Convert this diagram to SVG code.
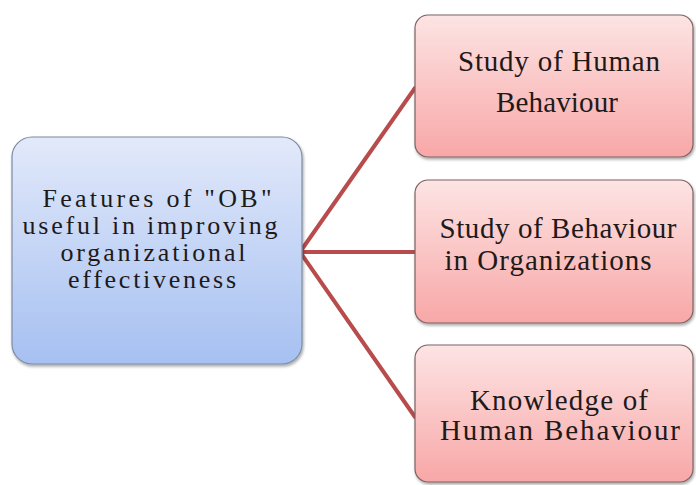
<svg xmlns="http://www.w3.org/2000/svg" width="696" height="485" viewBox="0 0 696 485">
  <defs>
    <linearGradient id="blueFill" x1="0" y1="0" x2="0" y2="1">
      <stop offset="0" stop-color="#e2e9fa"/>
      <stop offset="1" stop-color="#a6c0f1"/>
    </linearGradient>
    <linearGradient id="pinkFill" x1="0" y1="0" x2="0" y2="1">
      <stop offset="0" stop-color="#fde4e4"/>
      <stop offset="1" stop-color="#f8a7a7"/>
    </linearGradient>
    <filter id="shadow" x="-10%" y="-10%" width="120%" height="120%">
      <feGaussianBlur in="SourceAlpha" stdDeviation="1.5"/>
      <feOffset dx="1" dy="2" result="b"/>
      <feComponentTransfer><feFuncA type="linear" slope="0.35"/></feComponentTransfer>
      <feMerge><feMergeNode/><feMergeNode in="SourceGraphic"/></feMerge>
    </filter>
  </defs>
  <style>
    .lbl { font-family: "Liberation Serif", "Times New Roman", serif; font-size: 29px; fill: #1e1a1a; text-anchor: middle; }
    .small { font-size: 26px; }
    .root { fill: url(#blueFill); stroke: #7d8ca3; stroke-width: 1.2; }
    .leaf { fill: url(#pinkFill); stroke: #7e6262; stroke-width: 1.2; }
    .link { stroke: #b84b4b; stroke-width: 4; fill: none; stroke-linecap: round; }
  </style>
  <rect width="696" height="485" fill="#ffffff"/>

  <g id="connectors">
    <line class="link" x1="300" y1="252" x2="415" y2="88"/>
    <line class="link" x1="300" y1="252" x2="415" y2="252"/>
    <line class="link" x1="300" y1="252" x2="415" y2="417"/>
  </g>

  <g id="features">
    <rect class="root" x="12" y="137" width="290" height="227" rx="20" filter="url(#shadow)"/>
    <text class="lbl small" x="157" y="207" textLength="229" lengthAdjust="spacing">Features of "OB"</text>
    <text class="lbl small" x="150" y="234" textLength="255" lengthAdjust="spacing">useful in improving</text>
    <text class="lbl small" x="153" y="261" textLength="185" lengthAdjust="spacing">organizational</text>
    <text class="lbl small" x="152" y="288" textLength="168" lengthAdjust="spacing">effectiveness</text>
  </g>

  <g id="human-behaviour">
    <rect class="leaf" x="415" y="15" width="278" height="142" rx="13" filter="url(#shadow)"/>
    <text class="lbl" x="559" y="71" textLength="202" lengthAdjust="spacing">Study of Human</text>
    <text class="lbl" x="557" y="112" textLength="122" lengthAdjust="spacing">Behaviour</text>
  </g>

  <g id="behaviour-organizations">
    <rect class="leaf" x="415" y="180" width="278" height="143" rx="13" filter="url(#shadow)"/>
    <text class="lbl" x="558" y="238" textLength="237" lengthAdjust="spacing">Study of Behaviour</text>
    <text class="lbl" x="548" y="270" textLength="207" lengthAdjust="spacing">in Organizations</text>
  </g>

  <g id="knowledge">
    <rect class="leaf" x="415" y="345" width="278" height="137" rx="13" filter="url(#shadow)"/>
    <text class="lbl" x="559" y="410" textLength="178" lengthAdjust="spacing">Knowledge of</text>
    <text class="lbl" x="560" y="440" textLength="240" lengthAdjust="spacing">Human Behaviour</text>
  </g>
</svg>
